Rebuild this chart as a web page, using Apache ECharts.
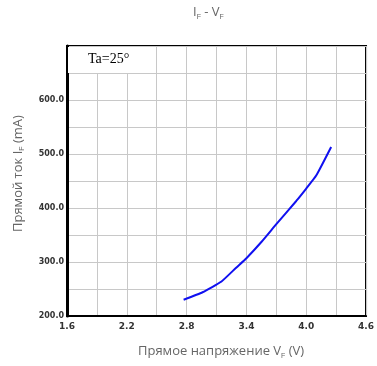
<!DOCTYPE html>
<html>
<head>
<meta charset="utf-8">
<script src="https://cdn.jsdelivr.net/npm/echarts@6/dist/echarts.min.js"></script>
</head>
<body style="margin:0">
<div id="container" style="width:377px;height:366px"></div>
<script>
// forward voltage (V) vs forward current (mA)
var vf = [2.77, 2.96, 3.15, 3.30, 3.40, 3.55, 3.70, 3.90, 4.00, 4.10, 4.25];
var iF = [230, 244, 264, 290, 307, 337, 370, 413, 436, 460, 513];
var xTicks = [1.6, 2.2, 2.8, 3.4, 4.0, 4.6];
var yTicks = [200, 300, 400, 500, 600];

var chart = echarts.init(document.getElementById('container'));

var data = vf.map(function (v, i) { return [v, iF[i]]; });

function onTick(list, v, eps) {
  return list.some(function (t) { return Math.abs(t - v) < eps; });
}

var sub = { s: { fontSize: 7, fill: '#666', padding: [9, 0, 0, 0] } };

chart.setOption({
  animation: false,
  grid: { left: 67, right: 10, top: 46, bottom: 50, show: true, borderColor: '#000', borderWidth: 2 },
  xAxis: {
    type: 'value', min: 1.6, max: 4.6, interval: 0.3,
    axisLine: { show: true, lineStyle: { color: '#000', width: 2 } },
    axisTick: { show: false },
    splitLine: { lineStyle: { color: '#c8c8c8', width: 1 } },
    axisLabel: {
      margin: 6, fontSize: 9, fontWeight: 'bold', color: '#333', fontFamily: 'DejaVu Sans',
      formatter: function (v) { return onTick(xTicks, v, 0.01) ? v.toFixed(1) : ''; }
    }
  },
  yAxis: {
    type: 'value', min: 200, max: 700, interval: 50,
    axisLine: { show: true, lineStyle: { color: '#000', width: 3 } },
    axisTick: { show: false },
    splitLine: { lineStyle: { color: '#c8c8c8', width: 1 } },
    axisLabel: {
      margin: 3, fontSize: 8, fontWeight: 'bold', color: '#333', fontFamily: 'DejaVu Sans',
      formatter: function (v) { return onTick(yTicks, v, 1) ? v.toFixed(1) : ''; }
    }
  },
  series: [{
    type: 'line', data: data, showSymbol: false, smooth: 0.15,
    lineStyle: { color: '#1010f0', width: 2 }
  }],
  graphic: [
    { type: 'rect', left: 68, top: 47, z: 10,
      shape: { width: 88, height: 26 }, style: { fill: '#fff' } },
    { type: 'text', left: 88, top: 52, z: 11,
      style: { text: 'Ta=25°', font: '14px "Liberation Serif"', fill: '#000' } },
    { type: 'text', left: 193, top: 6,
      style: { text: 'I{s|F} - V{s|F}', font: '13px "Open Sans"', fill: '#666', rich: sub } },
    { type: 'text', left: 138, top: 345,
      style: { text: 'Прямое напряжение V{s|F} (V)', font: '13px "Open Sans"', fill: '#666', rich: sub } },
    { type: 'text', x: 10, y: 232, rotation: Math.PI / 2,
      style: { text: 'Прямой ток I{s|F} (mA)', font: '13px "Open Sans"', fill: '#666', rich: sub } }
  ]
});
</script>
</body>
</html>
